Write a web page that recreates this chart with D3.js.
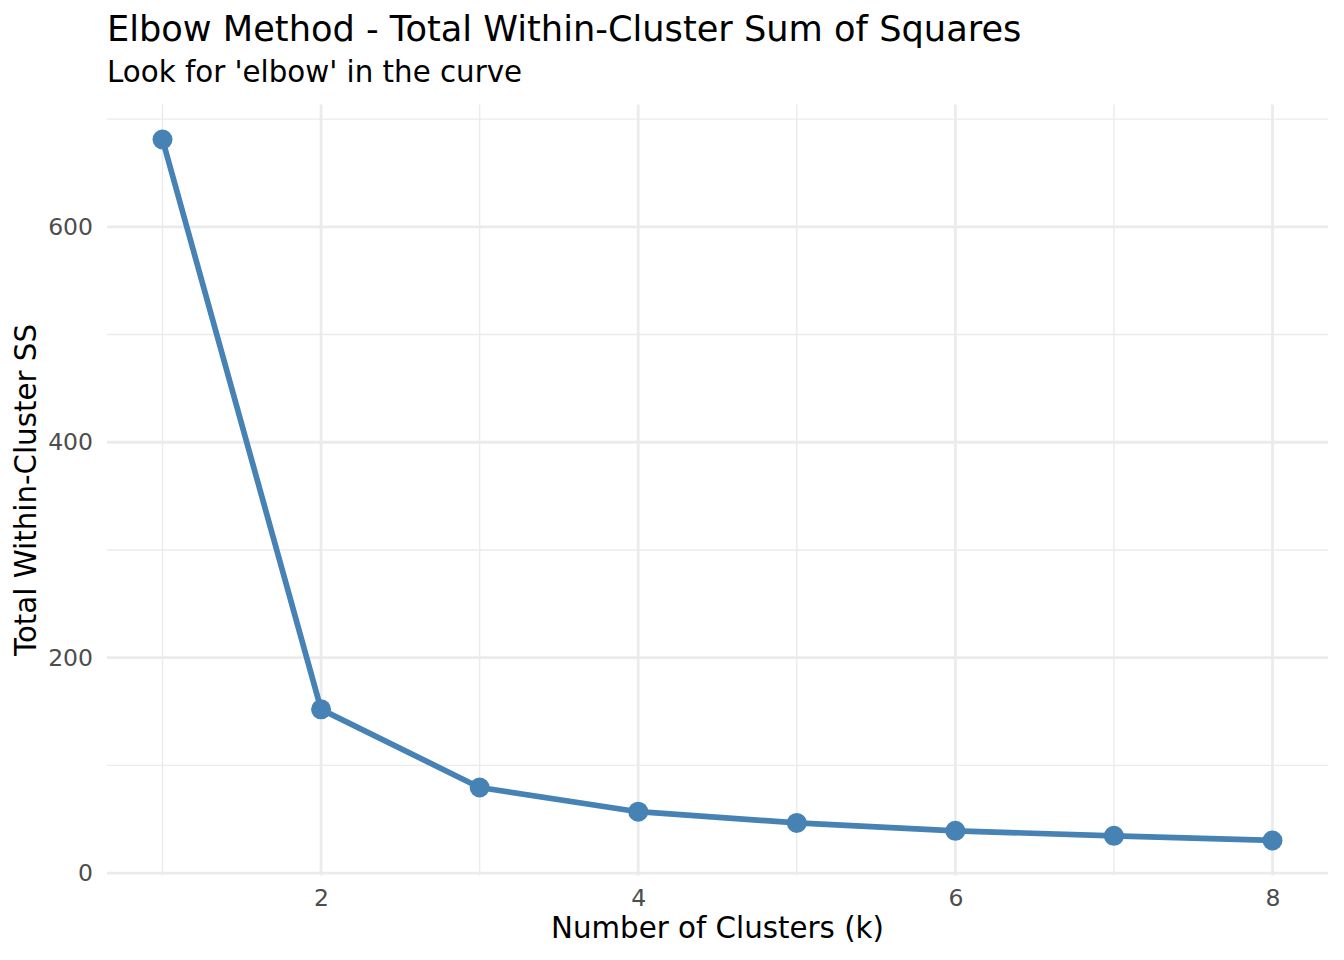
<!DOCTYPE html>
<html>
<head>
<meta charset="utf-8">
<script src="https://cdn.jsdelivr.net/npm/d3@7"></script>
<style>
  body { margin: 0; background: #fff; }
  text { font-family: "DejaVu Sans", sans-serif; }
</style>
</head>
<body>
<div id="viz"></div>
<script>
// data
const clusters = [1, 2, 3, 4, 5, 6, 7, 8]
const withinSS = [681, 152, 79.5, 57, 46.6, 39.2, 34.6, 30.3]

const xMajorTicks = [2, 4, 6, 8]
const xMinorTicks = [1, 3, 5, 7]
const yMajorTicks = [0, 200, 400, 600]
const yMinorTicks = [100, 300, 500, 700]

const titleText = 'Elbow Method - Total Within-Cluster Sum of Squares'
const subtitleText = "Look for 'elbow' in the curve"
const xTitle = 'Number of Clusters (k)'
const yTitle = 'Total Within-Cluster SS'

const lineColor = '#4682B4'

let dimensions = {
  width: 1344,
  height: 960,
  margin: {
    top: 104.5,
    right: 16,
    bottom: 84.5,
    left: 107,
  },
}
dimensions.boundedWidth = dimensions.width
  - dimensions.margin.left
  - dimensions.margin.right
dimensions.boundedHeight = dimensions.height
  - dimensions.margin.top
  - dimensions.margin.bottom

const data = clusters.map((k, i) => ({k: k, ss: withinSS[i]}))

const wrapper = d3.select('#viz')
  .append('svg')
  .attr('width', dimensions.width)
  .attr('height', dimensions.height)

const chart = wrapper.append('g')
  .attr('transform', `translate(${dimensions.margin.left},${dimensions.margin.top})`)

// scales, with ggplot style 5% expansion
const xExt = d3.extent(clusters)
const xPad = (xExt[1] - xExt[0]) * 0.05
const xScale = d3.scaleLinear()
  .domain([xExt[0] - xPad, xExt[1] + xPad])
  .range([0, dimensions.boundedWidth])

const yExt = d3.extent(withinSS)
const yPad = (yExt[1] - yExt[0]) * 0.05
const yScale = d3.scaleLinear()
  .domain([yExt[0] - yPad, yExt[1] + yPad])
  .range([dimensions.boundedHeight, 0])

// grid
const grid = chart.append('g')

grid.selectAll('.yminor')
  .data(yMinorTicks.filter(v => v <= yScale.domain()[1]))
  .join('line')
  .attr('x1', 0).attr('x2', dimensions.boundedWidth)
  .attr('y1', d => yScale(d)).attr('y2', d => yScale(d))
  .attr('stroke', '#ebebeb').attr('stroke-width', 1.4)

grid.selectAll('.xminor')
  .data(xMinorTicks)
  .join('line')
  .attr('y1', 0).attr('y2', dimensions.boundedHeight)
  .attr('x1', d => xScale(d)).attr('x2', d => xScale(d))
  .attr('stroke', '#ebebeb').attr('stroke-width', 1.4)

grid.append('g').selectAll('line')
  .data(yMajorTicks)
  .join('line')
  .attr('x1', 0).attr('x2', dimensions.boundedWidth)
  .attr('y1', d => yScale(d)).attr('y2', d => yScale(d))
  .attr('stroke', '#ebebeb').attr('stroke-width', 2.8)

grid.append('g').selectAll('line')
  .data(xMajorTicks)
  .join('line')
  .attr('y1', 0).attr('y2', dimensions.boundedHeight)
  .attr('x1', d => xScale(d)).attr('x2', d => xScale(d))
  .attr('stroke', '#ebebeb').attr('stroke-width', 2.8)

// axes (labels only)
const xAxis = chart.append('g')
  .attr('transform', `translate(0,${dimensions.boundedHeight})`)
  .call(d3.axisBottom(xScale).tickValues(xMajorTicks).tickSize(0).tickPadding(14))
xAxis.select('.domain').remove()
xAxis.selectAll('text')
  .style('font-family', '"DejaVu Sans", sans-serif')
  .style('font-size', '23.5px')
  .attr('fill', '#4d4d4d')

const yAxis = chart.append('g')
  .call(d3.axisLeft(yScale).tickValues(yMajorTicks).tickSize(0).tickPadding(14))
yAxis.select('.domain').remove()
yAxis.selectAll('text')
  .style('font-family', '"DejaVu Sans", sans-serif')
  .style('font-size', '23.5px')
  .attr('fill', '#4d4d4d')

// line and points
const lineGenerator = d3.line()
  .x(d => xScale(d.k))
  .y(d => yScale(d.ss))

chart.append('path')
  .attr('d', lineGenerator(data))
  .attr('fill', 'none')
  .attr('stroke', lineColor)
  .attr('stroke-width', 5.7)
  .attr('stroke-linejoin', 'round')

chart.selectAll('circle')
  .data(data)
  .join('circle')
  .attr('cx', d => xScale(d.k))
  .attr('cy', d => yScale(d.ss))
  .attr('r', 10)
  .attr('fill', lineColor)

// titles
wrapper.append('text')
  .attr('x', dimensions.margin.left)
  .attr('y', 41)
  .style('font-size', '35.2px')
  .attr('fill', '#000')
  .text(titleText)

wrapper.append('text')
  .attr('x', dimensions.margin.left)
  .attr('y', 82)
  .style('font-size', '29.3px')
  .attr('fill', '#000')
  .text(subtitleText)

wrapper.append('text')
  .attr('x', dimensions.margin.left + dimensions.boundedWidth / 2)
  .attr('y', 938)
  .attr('text-anchor', 'middle')
  .style('font-size', '29.3px')
  .attr('fill', '#000')
  .text(xTitle)

wrapper.append('text')
  .attr('transform', `translate(36,${dimensions.margin.top + dimensions.boundedHeight / 2}) rotate(-90)`)
  .attr('text-anchor', 'middle')
  .style('font-size', '29.3px')
  .attr('fill', '#000')
  .text(yTitle)
</script>
</body>
</html>
